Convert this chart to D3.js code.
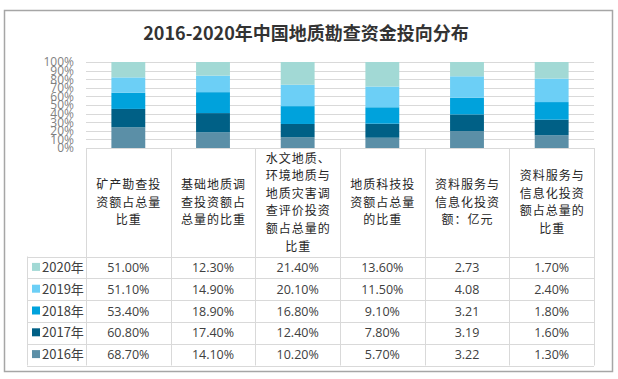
<!DOCTYPE html>
<html><head><meta charset="utf-8">
<script src="https://cdn.jsdelivr.net/npm/d3@7"></script>
<style>body{margin:0;background:#fff}svg{display:block}</style>
</head><body><svg id="c" width="618" height="379"></svg>
<script>
const title = "2016-2020年中国地质勘查资金投向分布";
const categories = [
  ["矿产勘查投","资额占总量","比重"],
  ["基础地质调","查投资额占","总量的比重"],
  ["水文地质、","环境地质与","地质灾害调","查评价投资","额占总量的","比重"],
  ["地质科技投","资额占总量","的比重"],
  ["资料服务与","信息化投资","额：亿元"],
  ["资料服务与","信息化投资","额占总量的","比重"]
];
const years = ["2016年","2017年","2018年","2019年","2020年"];
const values2016 = [68.7, 14.1, 10.2, 5.7, 3.22, 1.3];
const values2017 = [60.8, 17.4, 12.4, 7.8, 3.19, 1.6];
const values2018 = [53.4, 18.9, 16.8, 9.1, 3.21, 1.8];
const values2019 = [51.1, 14.9, 20.1, 11.5, 4.08, 2.4];
const values2020 = [51.0, 12.3, 21.4, 13.6, 2.73, 1.7];
const series = [values2016, values2017, values2018, values2019, values2020];
const colors = ["#5B8FA7", "#006086", "#00A2DC", "#6CCFF6", "#A2D9D5"];
const percentCols = [true, true, true, true, false, true];
const yTicks = [0,0.1,0.2,0.3,0.4,0.5,0.6,0.7,0.8,0.9,1];

(function(){
const svg = d3.select("#c");
const font = "'Noto Sans CJK SC','Noto Sans',sans-serif";

svg.append("rect").attr("x",4.5).attr("y",10.5).attr("width",608).attr("height",361)
  .attr("fill","#fff").attr("stroke","#A6A6A6").attr("stroke-width",1.5);

svg.append("text").attr("x",306).attr("y",40).attr("text-anchor","middle")
  .attr("font-family",font).attr("font-weight","bold").attr("font-size",18)
  .attr("fill","#333").text(title);

const pL = 86, pR = 594, pT = 62, pB = 148;
const x = d3.scaleBand().domain(d3.range(categories.length)).range([pL,pR]);
const y = d3.scaleLinear().domain([0,1]).range([pB, pT]);

svg.append("g").selectAll("line").data(yTicks).join("line")
  .attr("x1",pL).attr("x2",pR).attr("y1",d=>Math.round(y(d))+0.5).attr("y2",d=>Math.round(y(d))+0.5)
  .attr("stroke","#D9D9D9");

const yAxis = svg.append("g").attr("transform",`translate(${pL-12},0)`)
  .call(d3.axisLeft(y).tickValues(yTicks).tickFormat(d3.format(".0%")).tickSize(0).tickPadding(0));
yAxis.select(".domain").remove();
yAxis.selectAll("text").attr("font-family","'Open Sans','Noto Sans',sans-serif").attr("font-size",12).attr("fill","#7F7F7F");

const rows = categories.map((c,i)=>{const o={i}; series.forEach((s,k)=>o[k]=s[i]); return o;});
const stack = d3.stack().keys(d3.range(series.length)).offset(d3.stackOffsetExpand)(rows);
const bw = x.bandwidth()*0.4;
svg.append("g").selectAll("g").data(stack).join("g").attr("fill",(d,k)=>colors[k])
  .selectAll("rect").data(d=>d).join("rect")
  .attr("x",d=>x(d.data.i)+(x.bandwidth()-bw)/2).attr("width",bw)
  .attr("y",d=>y(d[1])).attr("height",d=>y(d[0])-y(d[1]));

const tableLeft = 27, headerBottom = 256.5, rowH = 21.8;
const tg = svg.append("g").attr("stroke","#D9D9D9").attr("fill","none");
x.domain().concat([categories.length]).forEach(i=>{
  const xx = Math.round(i<categories.length ? x(i) : pR)+0.5;
  tg.append("line").attr("x1",xx).attr("x2",xx).attr("y1",pB).attr("y2",headerBottom+rowH*5);
});
tg.append("line").attr("x1",tableLeft+0.5).attr("x2",tableLeft+0.5).attr("y1",headerBottom).attr("y2",headerBottom+rowH*5);
for(let r=0;r<=5;r++){
  const yy = Math.round(headerBottom+rowH*r)+0.5;
  tg.append("line").attr("x1",tableLeft).attr("x2",pR).attr("y1",yy).attr("y2",yy);
}
categories.forEach((lines,i)=>{
  const cx = x(i)+x.bandwidth()/2;
  const lh = 17.6;
  const midY = (pB+headerBottom)/2;
  const y0 = midY - (lines.length-1)*lh/2;
  lines.forEach((t,j)=>{
    svg.append("text").attr("x",cx+0.5).attr("y",y0+j*lh).attr("dy","0.36em")
      .attr("text-anchor","middle").attr("font-family",font).attr("font-size",12)
      .attr("letter-spacing",1).attr("fill","#262626").text(t);
  });
});
const order = [4,3,2,1,0];
order.forEach((k,r)=>{
  const cy = headerBottom + rowH*r + rowH/2;
  svg.append("rect").attr("x",32).attr("y",cy-4.5).attr("width",8).attr("height",8).attr("fill",colors[k]);
  svg.append("text").attr("x",42).attr("y",cy).attr("dy","0.36em").attr("font-family",font)
    .attr("font-size",13).attr("fill","#404040").text(years[k]);
  series[k].forEach((v,i)=>{
    svg.append("text").attr("x",x(i)+x.bandwidth()/2).attr("y",cy).attr("dy","0.36em")
      .attr("text-anchor","middle").attr("font-family","'Open Sans','Noto Sans',sans-serif").attr("font-size",12.5)
      .attr("fill","#404040").text(percentCols[i] ? v.toFixed(2)+"%" : v.toFixed(2));
  });
});
})();
</script></body></html>
